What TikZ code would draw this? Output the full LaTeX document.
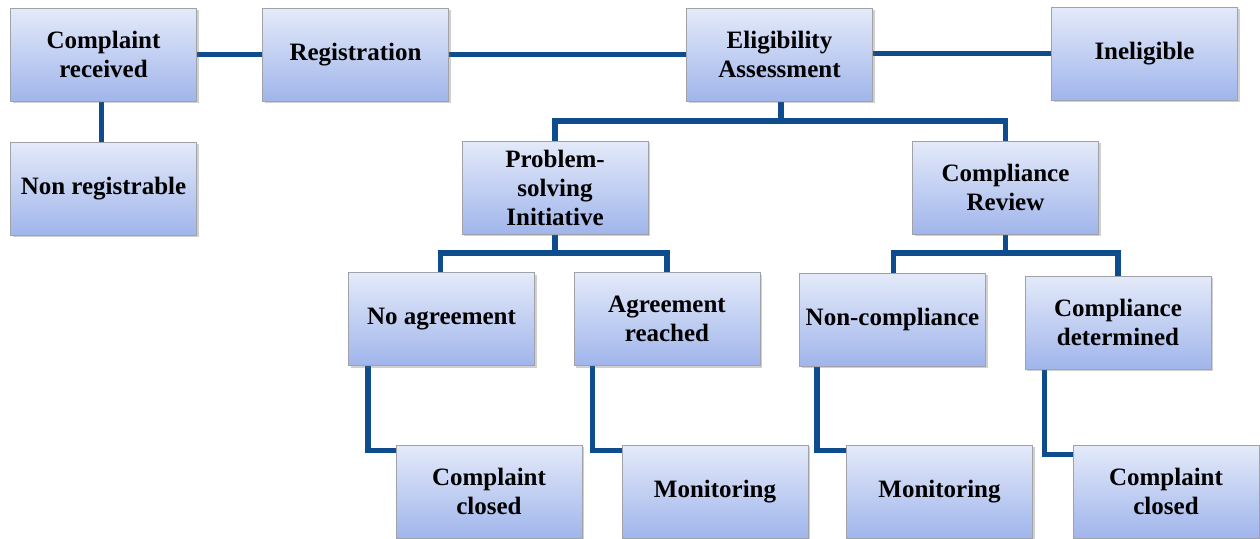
\documentclass[tikz,border=0pt]{standalone}
\usepackage{fontspec}
\setmainfont{Liberation Serif}
\usetikzlibrary{shadows,backgrounds}
\definecolor{linkblue}{RGB}{14,76,142}
\definecolor{boxtop}{RGB}{228,234,249}
\definecolor{boxbot}{RGB}{160,181,235}
\definecolor{boxedge}{RGB}{160,162,170}
\tikzset{
  box/.style={rectangle, draw=boxedge, line width=0.9pt,
    top color=boxtop, bottom color=boxbot,
    minimum width=186pt, minimum height=93pt, inner sep=0pt,
    align=center, font=\bfseries\fontsize{25}{29}\selectfont,
    drop shadow={shadow xshift=2pt, shadow yshift=-2pt, opacity=0.3, fill=black!60}},
  link/.style={draw=linkblue, line width=5.5pt}
}
\begin{document}
\begin{tikzpicture}[x=1pt,y=-1pt]
\useasboundingbox (0,0) rectangle (1260,538);
% top row
\node[box] (cr)   at (103.5,54.5)  {Complaint\\received};
\node[box] (reg)  at (355.5,54.5)  {Registration};
\node[box] (elig) at (779.5,54.5)  {Eligibility\\Assessment};
\node[box] (inel) at (1144.5,53.5) {Ineligible};
\node[box] (nonr) at (103.5,188.5) {Non registrable};
% second level
\node[box] (psi)  at (555,187.5)   {Problem-\\solving\\Initiative};
\node[box] (crv)  at (1005.5,187.5){Compliance\\Review};
% outcomes
\node[box] (noag) at (441.5,319)   {No agreement};
\node[box] (agr)  at (667,319)     {Agreement\\reached};
\node[box] (ncmp) at (892.5,319.5) {Non-compliance};
\node[box] (cdet) at (1118,322.5)  {Compliance\\determined};
% final states
\node[box] (cc1)  at (489,491.5)   {Complaint\\closed};
\node[box] (mon1) at (715,491.5)   {Monitoring};
\node[box] (mon2) at (939.5,491.5) {Monitoring};
\node[box] (cc2)  at (1166,491.5)  {Complaint\\closed};
% junction points of the branching connectors
\coordinate (j1) at (781,121);
\coordinate (j2) at (555,253);
\coordinate (j3) at (1005.5,253);
\begin{scope}[on background layer]
  \fill[white] (0,0) rectangle (1260,538);
  \draw[link] (cr.east) -- (reg.west);
  \draw[link] (reg.east) -- (elig.west);
  \draw[link] ([yshift=1pt]elig.east) -- ([yshift=0pt]inel.west);
  \draw[link] ([xshift=-2pt]cr.south) -- ([xshift=-2pt]nonr.north);
  \draw[link] (elig.south -| j1) -- (j1);
  \draw[link] (psi.north) |- (j1) -| (crv.north);
  \draw[link] (psi.south) -- (j2);
  \draw[link] ([xshift=-1pt]noag.north) |- (j2) -| (agr.north);
  \draw[link] (crv.south) -- (j3);
  \draw[link] ([xshift=1pt]ncmp.north) |- (j3) -| (cdet.north);
  \draw[link] ([xshift=20pt]noag.south west) |- ([yshift=-6pt]cc1.north west);
  \draw[link] ([xshift=19pt]agr.south west) |- ([yshift=-6pt]mon1.north west);
  \draw[link] ([xshift=18pt]ncmp.south west) |- ([yshift=-6pt]mon2.north west);
  \draw[link] ([xshift=20pt]cdet.south west) |- ([yshift=-10pt]cc2.north west);
\end{scope}
\end{tikzpicture}
\end{document}
